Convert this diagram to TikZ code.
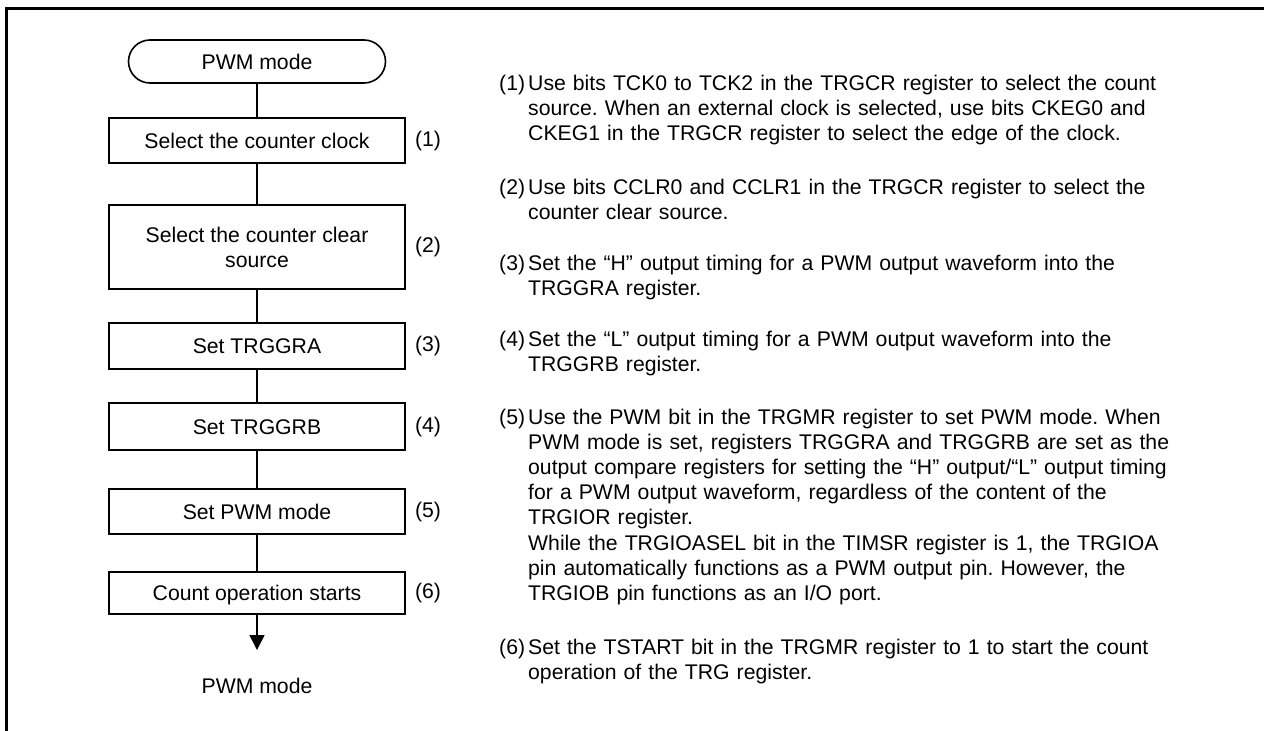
\documentclass[tikz,border=0pt]{standalone}
\usepackage{fontspec}
\setmainfont{Liberation Sans}
\usetikzlibrary{arrows.meta}
\frenchspacing
\begin{document}
\begin{tikzpicture}[x=1pt,y=-1pt,
  every node/.style={font=\fontsize{21.2}{25.2}\selectfont\frenchspacing, inner sep=0pt},
  stepbox/.style={draw, line width=1.6pt, minimum width=296pt, text height=15.2pt, text depth=0pt, align=center},
  termbox/.style={draw, line width=1.6pt, rounded corners=21.5pt, minimum width=257pt, minimum height=43pt, text height=15.2pt, text depth=0pt},
  numlabel/.style={anchor=center, text height=15.2pt, text depth=4.4pt},
  para/.style={anchor=base west, text width=730pt, align=left},
  pnum/.style={anchor=base west},
  link/.style={line width=1.6pt}
]
\useasboundingbox (0,0) rectangle (1264,731);
% frame (top and left edges)
\draw[line width=3pt] (6.5,731) -- (6.5,8.5) -- (1264,8.5);

% flowchart
\node[termbox] (start) at (257,61.5) {PWM mode};
\node[stepbox, minimum height=45pt] (b1) at (257,140.5) {Select the counter clock};
\node[stepbox, minimum height=84pt, text height=40.4pt, text depth=0pt] (b2) at (257,247) {Select the counter clear\\source};
\node[stepbox, minimum height=46pt] (b3) at (257,346) {Set TRGGRA};
\node[stepbox, minimum height=47pt] (b4) at (257,426.5) {Set TRGGRB};
\node[stepbox, minimum height=45pt] (b5) at (257,511.5) {Set PWM mode};
\node[stepbox, minimum height=42pt] (b6) at (257,593) {Count operation starts};
\coordinate (tip) at (257,650);
\node (end) at (257,685.5) {PWM mode};

\draw[link] (start) -- (b1);
\draw[link] (b1) -- (b2);
\draw[link] (b2) -- (b3);
\draw[link] (b3) -- (b4);
\draw[link] (b4) -- (b5);
\draw[link] (b5) -- (b6);
\draw[link, -{Triangle[width=15pt,length=15pt]}] (b6) -- (tip);

% step numbers
\node[numlabel] (n1) at (428,141) {(1)};
\node[numlabel] (n2) at (428,247) {(2)};
\node[numlabel] (n3) at (428,346) {(3)};
\node[numlabel] (n4) at (428,427) {(4)};
\node[numlabel] (n5) at (428,512) {(5)};
\node[numlabel] (n6) at (428,593) {(6)};

% descriptions
\node[pnum] (p1n) at (499,90.5) {(1)};
\node[para] (p1) at (528,90.5) {Use bits TCK0 to TCK2 in the TRGCR register to select the count\\source. When an external clock is selected, use bits CKEG0 and\\CKEG1 in the TRGCR register to select the edge of the clock.};
\node[pnum] (p2n) at (499,194) {(2)};
\node[para] (p2) at (528,194) {Use bits CCLR0 and CCLR1 in the TRGCR register to select the\\counter clear source.};
\node[pnum] (p3n) at (499,270) {(3)};
\node[para] (p3) at (528,270) {Set the “H” output timing for a PWM output waveform into the\\TRGGRA register.};
\node[pnum] (p4n) at (499,346) {(4)};
\node[para] (p4) at (528,346) {Set the “L” output timing for a PWM output waveform into the\\TRGGRB register.};
\node[pnum] (p5n) at (499,424) {(5)};
\node[para] (p5) at (528,424) {Use the PWM bit in the TRGMR register to set PWM mode. When\\PWM mode is set, registers TRGGRA and TRGGRB are set as the\\output compare registers for setting the “H” output/“L” output timing\\for a PWM output waveform, regardless of the content of the\\TRGIOR register.\\While the TRGIOASEL bit in the TIMSR register is 1, the TRGIOA\\pin automatically functions as a PWM output pin. However, the\\TRGIOB pin functions as an I/O port.};
\node[pnum] (p6n) at (499,654) {(6)};
\node[para] (p6) at (528,654) {Set the TSTART bit in the TRGMR register to 1 to start the count\\operation of the TRG register.};
\end{tikzpicture}
\end{document}
